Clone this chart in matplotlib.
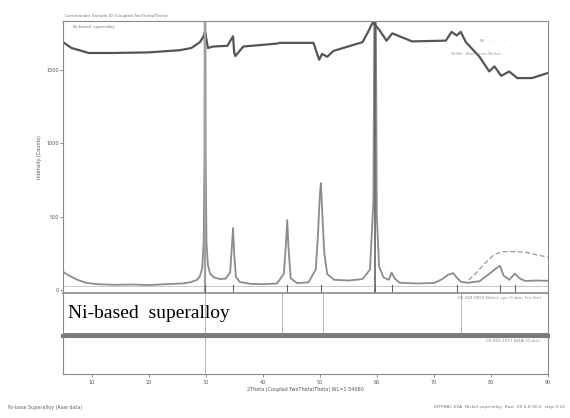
import numpy as np
import matplotlib
matplotlib.use("Agg")
import matplotlib.pyplot as plt

# measured pattern (2theta in deg, counts)
scan_2theta = [5.0, 6.0, 7.5, 9.0, 11.0, 14.0, 17.0, 20.0, 23.0, 26.0, 27.5, 28.5, 29.0,
               29.4, 29.65, 29.8, 29.9, 30.0, 30.15, 30.4, 30.8, 31.5, 32.5, 33.5, 34.3,
               34.6, 34.8, 35.0, 35.3, 36.0, 38.0, 40.0, 42.5, 43.7, 44.1, 44.3, 44.5,
               44.9, 46.0, 48.0, 49.3, 49.7, 50.0, 50.2, 50.45, 50.8, 51.3, 52.5, 55.0,
               57.5, 58.8, 59.4, 59.7, 60.0, 60.4, 61.2, 62.1, 62.6, 63.1, 64.0, 67.0,
               70.0, 71.5, 72.5, 73.4, 74.0, 74.8, 76.0, 78.0, 80.0, 81.0, 81.6, 82.2,
               83.2, 84.2, 85.0, 86.0, 88.0, 90.0]
scan_counts = [125, 100, 70, 50, 40, 36, 38, 34, 40, 45, 55, 70, 95,
               150, 330, 900, 3000, 900, 320, 170, 110, 85, 75, 78, 120,
               300, 423, 250, 90, 55, 42, 40, 45, 110, 330, 477, 300,
               80, 48, 52, 140, 390, 640, 729, 520, 250, 110, 70, 65,
               75, 140, 600, 3000, 500, 160, 85, 70, 120, 80, 50, 45,
               48, 75, 105, 115, 85, 55, 50, 60, 120, 150, 165, 100,
               70, 112, 80, 62, 65, 63]

# calculated background hump (dashed)
bg_2theta = [76.1, 77.5, 79.0, 80.5, 82.0, 84.0, 86.0, 88.0, 90.0]
bg_counts = [68, 120, 185, 240, 262, 262, 258, 240, 225]

# difference / top trace
top_2theta = [5.0, 6.5, 9.5, 14.0, 20.0, 25.5, 27.5, 29.0, 29.65, 29.9, 30.4, 31.3,
              33.8, 34.8, 35.0, 35.2, 36.6, 42.5, 43.0, 48.9, 49.5, 49.9, 50.4, 51.3,
              52.4, 57.5, 58.6, 59.3, 60.5, 61.7, 62.7, 66.2, 72.1, 73.1, 74.0, 74.7,
              75.6, 78.0, 79.7, 80.6, 81.8, 83.2, 84.6, 87.2, 90.0]
top_counts = [1690, 1650, 1616, 1616, 1620, 1635, 1650, 1690, 1730, 1760, 1650, 1660,
              1665, 1730, 1620, 1595, 1660, 1680, 1685, 1685, 1615, 1570, 1610, 1590,
              1630, 1690, 1770, 1825, 1770, 1700, 1750, 1695, 1700, 1760, 1735, 1760,
              1690, 1590, 1490, 1525, 1460, 1490, 1445, 1445, 1480]

# reference stick positions
ref_a = [29.9, 34.8, 44.3, 50.2, 59.7, 62.7, 74.0, 81.6, 84.2]
ref_b = [29.9, 43.4, 50.6, 74.8]
ref_c = [29.9]

xticks = [10, 20, 30, 40, 50, 60, 70, 80, 90]
yticks = [0, 500, 1000, 1500]

fig = plt.figure(figsize=(5.7, 4.18), dpi=100)
fig.patch.set_facecolor("white")

L, W = 63 / 570, (548 - 63) / 570
ax = fig.add_axes([L, 1 - 293 / 418, W, 272 / 418])
ax2 = fig.add_axes([L, 1 - 333 / 418, W, 40 / 418])
ax3 = fig.add_axes([L, 1 - 374 / 418, W, 38 / 418])

spc = "#8a8a8a"
for a in (ax, ax2, ax3):
    a.set_xlim(5, 90)
    for s in a.spines.values():
        s.set_color(spc)
        s.set_linewidth(0.8)

ax.plot(scan_2theta, scan_counts, color="#8c8c8c", lw=1.3)
ax.plot(bg_2theta, bg_counts, color="#9a9a9a", lw=0.9, ls=(0, (4, 2)))
ax.plot(top_2theta, top_counts, color="#555555", lw=1.6)
ax.axvline(29.9, color="#a0a0a0", lw=1.6)
ax.axvline(59.7, color="#555555", lw=1.1)
ax.axhline(30, color="#c8c8c8", lw=0.7)
for p in ref_a:
    ax.plot([p, p], [-20, 35], color="#666666", lw=0.8)
ax.set_ylim(-20, 1834)
ax.set_yticks(yticks)
ax.set_yticklabels([str(v) for v in yticks], fontsize=3.5, color="#555555")
ax.set_xticks(xticks)
ax.tick_params(axis="x", length=0, labelbottom=False)
ax.tick_params(axis="y", length=2, width=0.6, color="#777777", pad=1)
ax.set_ylabel("Intensity (Counts)", fontsize=3.5, color="#555555", labelpad=3)

ax.text(0.005, 1.012, "Commander Sample ID (Coupled TwoTheta/Theta)", transform=ax.transAxes,
        fontsize=3, color="#777777", va="bottom")
ax.text(0.02, 0.985, "Ni-based  superalloy", transform=ax.transAxes,
        fontsize=3, color="#777777", va="top")
ax.text(0.86, 0.935, "Ni   -   -   -   ,", transform=ax.transAxes,
        fontsize=3, color="#888888", va="top")
ax.text(0.80, 0.885, "Ni3Al - Aluminum Nickel", transform=ax.transAxes,
        fontsize=3, color="#999999", va="top")

for p in ref_b:
    ax2.axvline(p, color="#b5b5b5", lw=0.7)
ax2.set_ylim(0, 1)
ax2.set_xticks([])
ax2.set_yticks([])
ax2.text(0.01, 0.5, "Ni-based  superalloy", transform=ax2.transAxes,
         fontsize=14, family="Liberation Serif", color="black", va="center")
ax2.text(0.99, 0.93, "00-004-0850 Nickel, syn (Cubic, Fm-3m)  ", transform=ax2.transAxes,
         fontsize=3, color="#888888", va="top", ha="right")
ax2.spines["top"].set_linewidth(1.2)

for p in ref_c:
    ax3.axvline(p, color="#b5b5b5", lw=0.7)
ax3.set_ylim(0, 1)
ax3.set_yticks([])
ax3.spines["top"].set_color("#7a7a7a")
ax3.spines["top"].set_linewidth(3)
ax3.set_xticks(xticks)
ax3.set_xticklabels([str(v) for v in xticks], fontsize=3.5, color="#555555")
ax3.tick_params(axis="x", length=2, width=0.6, color="#777777", pad=2)
ax3.set_xlabel("2Theta (Coupled TwoTheta/Theta) WL=1.54060", fontsize=3.5,
               color="#555555", labelpad=2)
ax3.text(0.99, 0.93, "00-053-1027 Ni3Al (Cubic)  ", transform=ax3.transAxes,
         fontsize=3, color="#888888", va="top", ha="right")

fig.text(8 / 570, 1 - 407 / 418, "Ni-base Superalloy (Raw data)", fontsize=3.5,
         color="#666666", va="center")
fig.text(565 / 570, 1 - 407 / 418, "DIFFRAC.EVA  Nickel superalloy  Raw  2θ 5.0-90.0  step 0.02",
         fontsize=3.2, color="#777777", va="center", ha="right")

fig.savefig("out.png", dpi=100, facecolor="white")
